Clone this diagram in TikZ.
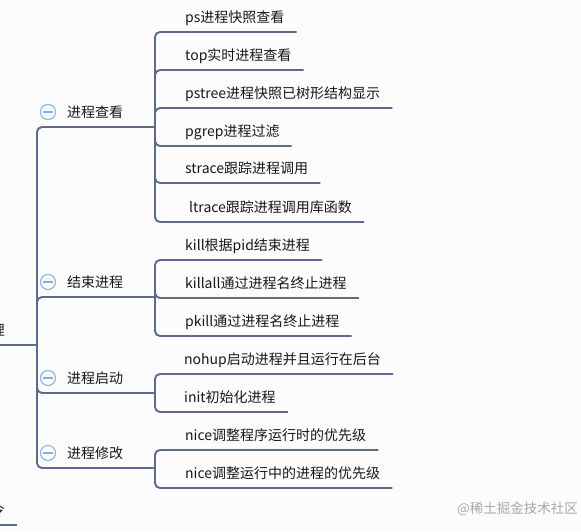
\documentclass[tikz,border=0pt]{standalone}
\usepackage{fontspec}
\setmainfont{Noto Sans CJK SC}
\definecolor{linec}{RGB}{94,106,140}
\definecolor{iconc}{RGB}{130,178,238}
\definecolor{txtc}{RGB}{24,24,24}
\definecolor{bgc}{RGB}{252,252,253}
\definecolor{wmc}{RGB}{168,168,172}
\begin{document}
\begin{tikzpicture}[x=1pt,y=-1pt,
  conn/.style={draw=linec, line width=1.9pt, rounded corners=5pt},
  plain/.style={draw=linec, line width=1.9pt},
  txt/.style={font=\fontsize{14}{16}\selectfont, text=txtc, text height=11pt, text depth=3pt, inner ysep=6pt, inner xsep=0pt},
  leaf/.style={txt, inner xsep=12pt, anchor=south west},
  topic/.style={txt, anchor=south west},
  icon/.style={circle, draw=iconc, line width=1.1pt, fill=white, minimum size=15pt, inner sep=0pt,
    path picture={\draw[iconc, line width=1.1pt] ([xshift=-4.6pt]path picture bounding box.center) -- ([xshift=4.6pt]path picture bounding box.center);}},
  wm/.style={font=\fontsize{13.5}{15}\selectfont, text=wmc, inner sep=0pt, anchor=west}
]
\useasboundingbox (0,0) rectangle (581,531);
\clip (0,0) rectangle (581,531);
\fill[bgc] (0,0) rectangle (581,531);

% root (cut off at the left edge, as in the reference)
\node[txt, anchor=south east, inner xsep=0pt] (root) at (5,345) {理};
\coordinate (hub) at (37,345);
\path (root.south west) ++(-20,0) coordinate (rootstart);
\draw[plain] (rootstart) -- (hub);

% second cut-off node at the bottom left
\node[leaf, anchor=south east] (cmd) at (17,525) {令};
\draw[plain] (cmd.south west) -- (cmd.south east);

% level-1 topics
\node[topic] (t1) at (67,127) {进程查看};
\node[topic] (t2) at (67,297) {结束进程};
\node[topic] (t3) at (67,393) {进程启动};
\node[topic] (t4) at (67,468) {进程修改};

\coordinate (j1) at (155,127);
\coordinate (j2) at (155,297);
\coordinate (j3) at (155,393);
\coordinate (j4) at (155,468);

\draw[conn] (hub) |- (j1);
\draw[conn] (hub) |- (j2);
\draw[conn] (hub) |- (j3);
\draw[conn] (hub) |- (j4);

\node[icon] (i1) at (48,112) {};
\node[icon] (i2) at (48,282) {};
\node[icon] (i3) at (48,378) {};
\node[icon] (i4) at (48,453) {};

% leaves of 进程查看
\node[leaf] (ps) at (173,32) {ps进程快照查看};
\node[leaf] (top) at (173,70) {top实时进程查看};
\node[leaf] (pstree) at (173,108) {pstree进程快照已树形结构显示};
\node[leaf] (pgrep) at (173,146) {pgrep进程过滤};
\node[leaf] (strace) at (173,183) {strace跟踪进程调用};
\node[leaf] (ltrace) at (177,222) {ltrace跟踪进程调用库函数};
\foreach \n in {ps,top,pstree,pgrep,strace,ltrace}
  \draw[conn] (j1) |- (\n.south west) -- (\n.south east);

% leaves of 结束进程
\node[leaf] (kill) at (173,260) {kill根据pid结束进程};
\node[leaf] (killall) at (173,298) {killall通过进程名终止进程};
\node[leaf] (pkill) at (173,336) {pkill通过进程名终止进程};
\foreach \n in {kill,killall,pkill}
  \draw[conn] (j2) |- (\n.south west) -- (\n.south east);

% leaves of 进程启动
\node[leaf] (nohup) at (172,374) {nohup启动进程并且运行在后台};
\node[leaf] (init) at (172,412) {init初始化进程};
\foreach \n in {nohup,init}
  \draw[conn] (j3) |- (\n.south west) -- (\n.south east);

% leaves of 进程修改
\node[leaf] (niceA) at (173,450) {nice调整程序运行时的优先级};
\node[leaf] (niceB) at (173,488) {nice调整运行中的进程的优先级};
\foreach \n in {niceA,niceB}
  \draw[conn] (j4) |- (\n.south west) -- (\n.south east);

% watermark
\node[wm] (wmark) at (457,509) {@稀土掘金技术社区};
\end{tikzpicture}
\end{document}
